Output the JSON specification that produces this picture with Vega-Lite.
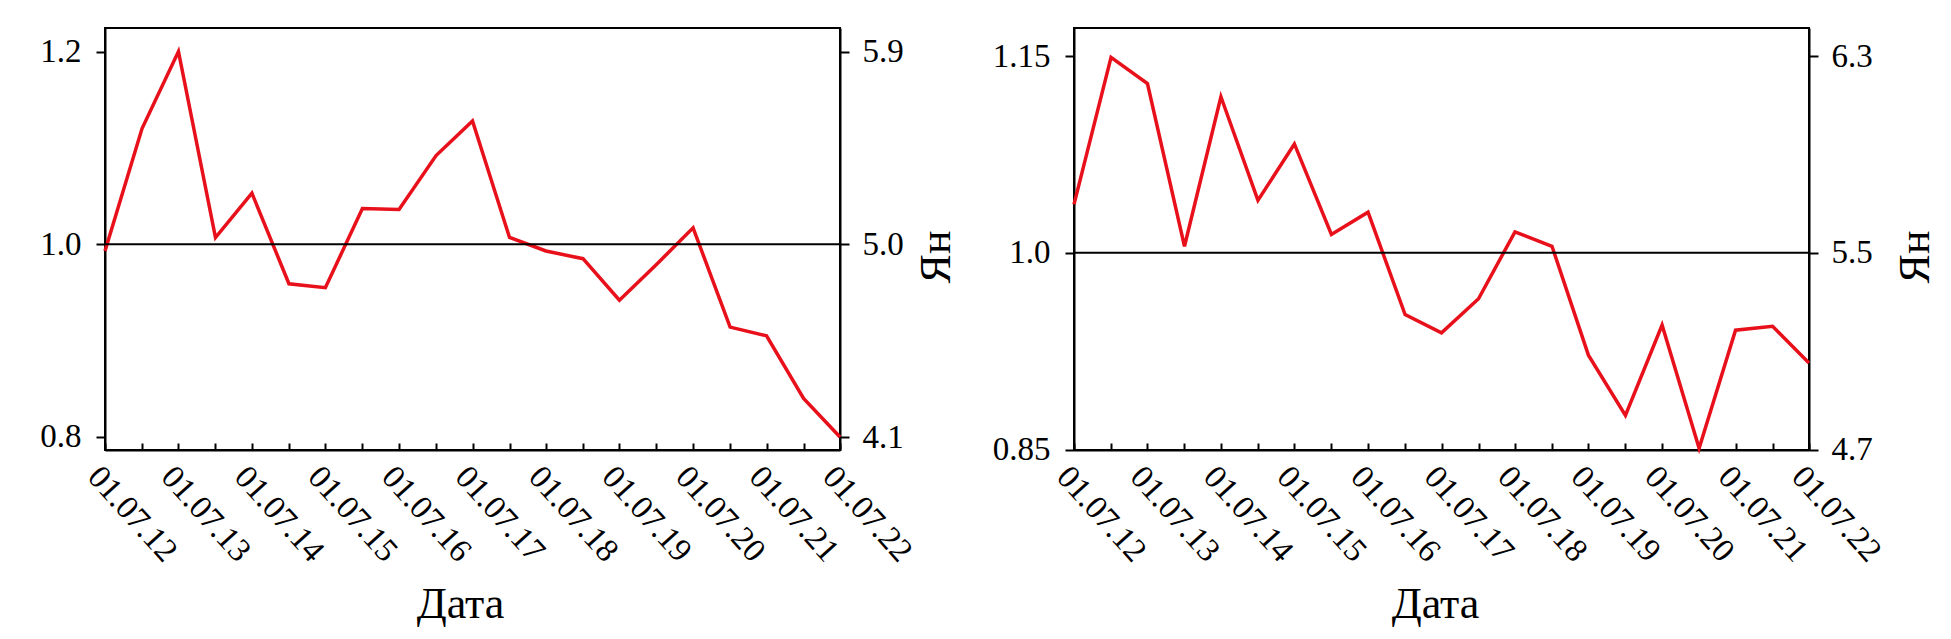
{
  "$schema": "https://vega.github.io/schema/vega-lite/v6.json",
  "autosize": {"type": "pad"},
  "padding": {"left": 38, "top": 27, "right": 5, "bottom": 5},
  "background": "white",
  "datasets": {
    "left": [
      {"d": "2012-07-01", "v": 0.993}, {"d": "2013-01-01", "v": 1.120}, {"d": "2013-07-01", "v": 1.200},
      {"d": "2014-01-01", "v": 1.007}, {"d": "2014-07-01", "v": 1.053}, {"d": "2015-01-01", "v": 0.959},
      {"d": "2015-07-01", "v": 0.955}, {"d": "2016-01-01", "v": 1.037}, {"d": "2016-07-01", "v": 1.036},
      {"d": "2017-01-01", "v": 1.092}, {"d": "2017-07-01", "v": 1.128}, {"d": "2018-01-01", "v": 1.007},
      {"d": "2018-07-01", "v": 0.993}, {"d": "2019-01-01", "v": 0.985}, {"d": "2019-07-01", "v": 0.942},
      {"d": "2020-01-01", "v": 0.979}, {"d": "2020-07-01", "v": 1.017}, {"d": "2021-01-01", "v": 0.914},
      {"d": "2021-07-01", "v": 0.905}, {"d": "2022-01-01", "v": 0.840}, {"d": "2022-07-01", "v": 0.800}
    ],
    "right": [
      {"d": "2012-07-01", "v": 1.037}, {"d": "2013-01-01", "v": 1.149}, {"d": "2013-07-01", "v": 1.129},
      {"d": "2014-01-01", "v": 1.005}, {"d": "2014-07-01", "v": 1.119}, {"d": "2015-01-01", "v": 1.040},
      {"d": "2015-07-01", "v": 1.083}, {"d": "2016-01-01", "v": 1.014}, {"d": "2016-07-01", "v": 1.031},
      {"d": "2017-01-01", "v": 0.953}, {"d": "2017-07-01", "v": 0.939}, {"d": "2018-01-01", "v": 0.965},
      {"d": "2018-07-01", "v": 1.016}, {"d": "2019-01-01", "v": 1.005}, {"d": "2019-07-01", "v": 0.922},
      {"d": "2020-01-01", "v": 0.876}, {"d": "2020-07-01", "v": 0.945}, {"d": "2021-01-01", "v": 0.851},
      {"d": "2021-07-01", "v": 0.941}, {"d": "2022-01-01", "v": 0.944}, {"d": "2022-07-01", "v": 0.916}
    ]
  },
  "config": {
    "font": "Liberation Serif",
    "view": {"stroke": "black", "strokeWidth": 2},
    "axis": {
      "domainColor": "black", "domainWidth": 2, "tickColor": "black", "tickWidth": 2,
      "labelColor": "black", "titleColor": "black", "labelFont": "Liberation Serif", "titleFont": "Liberation Serif",
      "labelFontSize": 33, "titleFontSize": 44, "titleFontWeight": "normal", "grid": false, "tickSize": 9
    }
  },
  "spacing": 234,
  "bounds": "flush",
  "hconcat": [
    {
      "width": 735, "height": 422,
      "layer": [
        {
          "data": {"name": "left"},
          "mark": {"type": "line", "color": "#e8101a", "strokeWidth": 3.5},
          "encoding": {
            "x": {"field": "d", "type": "temporal", "scale": {"type": "utc", "nice": false},
              "axis": {"title": "Дата", "tickSize": -7, "tickCount": {"interval": "month", "step": 6},
                "labelExpr": "utcmonth(datum.value) == 6 ? utcFormat(datum.value, '%d.%m.%y') : ''",
                "labelFont": "Liberation Serif", "labelFontSize": 33, "titleFont": "Liberation Serif", "titleFontSize": 44,
                "labelAngle": 48, "labelAlign": "left", "labelBaseline": "top", "labelPadding": 17,
                "labelOverlap": false, "labelFlush": false,
                "titleX": 355, "titleY": 154, "titleAlign": "center", "titleBaseline": "middle"}},
            "y": {"field": "v", "type": "quantitative", "scale": {"domain": [0.7865, 1.2244], "nice": false, "zero": false},
              "axis": {"orient": "left", "values": [0.8, 1.0, 1.2], "format": ".1f", "title": null, "labelPadding": 15,
                "labelFont": "Liberation Serif", "labelFontSize": 33}}
          }
        },
        {
          "data": {"values": [{}]},
          "mark": {"type": "rule", "color": "black", "strokeWidth": 2},
          "encoding": {
            "y": {"datum": 5.0, "type": "quantitative", "scale": {"domain": [4.0393, 6.0098], "nice": false, "zero": false},
              "axis": {"orient": "right", "values": [4.1, 5.0, 5.9], "format": ".1f", "title": "Ян", "labelPadding": 13,
                "labelFont": "Liberation Serif", "labelFontSize": 33, "titleFont": "Liberation Serif", "titleFontSize": 44,
                "titleAngle": 270, "titleX": 96, "titleY": 228.5, "titleAlign": "center", "titleBaseline": "middle"}}
          }
        }
      ],
      "resolve": {"scale": {"y": "independent"}}
    },
    {
      "width": 735, "height": 422,
      "layer": [
        {
          "data": {"name": "right"},
          "mark": {"type": "line", "color": "#e8101a", "strokeWidth": 3.5},
          "encoding": {
            "x": {"field": "d", "type": "temporal", "scale": {"type": "utc", "nice": false},
              "axis": {"title": "Дата", "tickSize": -7, "tickCount": {"interval": "month", "step": 6},
                "labelExpr": "utcmonth(datum.value) == 6 ? utcFormat(datum.value, '%d.%m.%y') : ''",
                "labelFont": "Liberation Serif", "labelFontSize": 33, "titleFont": "Liberation Serif", "titleFontSize": 44,
                "labelAngle": 48, "labelAlign": "left", "labelBaseline": "top", "labelPadding": 17,
                "labelOverlap": false, "labelFlush": false,
                "titleX": 361, "titleY": 154, "titleAlign": "center", "titleBaseline": "middle"}},
            "y": {"field": "v", "type": "quantitative", "scale": {"domain": [0.8497, 1.1714], "nice": false, "zero": false},
              "axis": {"orient": "left", "values": [0.85, 1.0, 1.15], "labelExpr": "datum.value == 1 ? '1.0' : format(datum.value, '.2f')", "title": null, "labelPadding": 15,
                "labelFont": "Liberation Serif", "labelFontSize": 33}}
          }
        },
        {
          "data": {"values": [{}]},
          "mark": {"type": "rule", "color": "black", "strokeWidth": 2},
          "encoding": {
            "y": {"datum": 5.5, "type": "quantitative", "scale": {"domain": [4.6984, 6.4141], "nice": false, "zero": false},
              "axis": {"orient": "right", "values": [4.7, 5.5, 6.3], "format": ".1f", "title": "Ян", "labelPadding": 13,
                "labelFont": "Liberation Serif", "labelFontSize": 33, "titleFont": "Liberation Serif", "titleFontSize": 44,
                "titleAngle": 270, "titleX": 106, "titleY": 228.5, "titleAlign": "center", "titleBaseline": "middle"}}
          }
        }
      ],
      "resolve": {"scale": {"y": "independent"}}
    }
  ]
}
